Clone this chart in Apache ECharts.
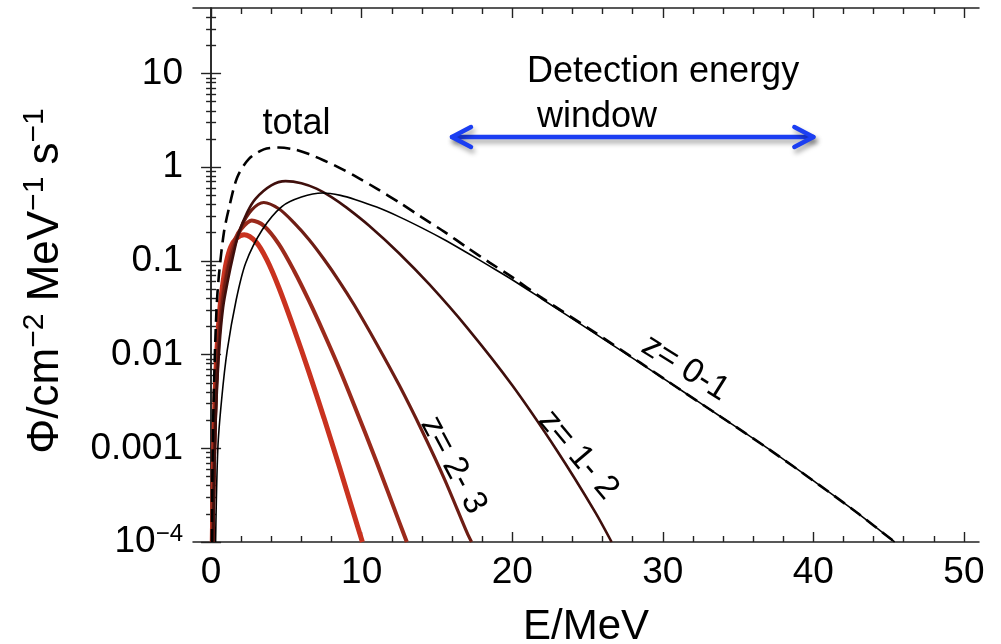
<!DOCTYPE html>
<html>
<head>
<meta charset="utf-8">
<script src="https://cdn.jsdelivr.net/npm/echarts@6/dist/echarts.min.js"></script>
<style>
  html, body { margin: 0; padding: 0; background: #fff; }
  #chart { width: 1001px; height: 644px; }
</style>
</head>
<body>
<div id="chart"></div>
<script>
// Neutrino flux spectra Φ(E) in cm^-2 MeV^-1 s^-1, one pair of arrays per redshift shell.
const eZ01 = [0.3, 0.45, 0.7, 1.07, 1.67, 2.3, 3.4, 4.7, 6.0, 7.4, 8.6, 9.6, 11, 12.5, 14, 15.5, 17, 18.5, 20, 22, 25.2, 28.5, 31, 33.8, 37, 40.4, 43, 45.4];
const fZ01 = [1e-4, 0.001, 0.0033, 0.011, 0.0385, 0.095, 0.215, 0.38, 0.48, 0.53, 0.50, 0.45, 0.375, 0.295, 0.225, 0.168, 0.122, 0.088, 0.063, 0.039, 0.018, 0.0081, 0.0044, 0.0022, 0.00099, 0.000405, 0.0002, 0.0001];

const eZ12 = [0.13, 0.22, 0.35, 0.55, 0.8, 1.1, 1.5, 1.85, 2.4, 2.95, 4.0, 4.95, 6, 7, 8, 9, 10.5, 12.5, 14.5, 17, 20, 23, 25.5, 26.6];
const fZ12 = [1e-4, 0.0006, 0.003, 0.012, 0.032, 0.06, 0.12, 0.2, 0.33, 0.46, 0.64, 0.71, 0.675, 0.59, 0.48, 0.37, 0.237, 0.12, 0.056, 0.0194, 0.0047, 0.00093, 0.00021, 0.0001];

const eZ23 = [0.12, 0.2, 0.32, 0.5, 0.7, 1.0, 1.4, 2.0, 2.7, 3.5, 4.5, 5.5, 6.5, 7.5, 8.5, 9.5, 11, 12.5, 14, 15.5, 17, 17.3];
const fZ23 = [1e-4, 0.0006, 0.003, 0.012, 0.03, 0.065, 0.12, 0.23, 0.35, 0.42, 0.36, 0.256, 0.169, 0.104, 0.061, 0.034, 0.013, 0.0047, 0.00155, 0.00047, 0.000126, 0.0001];

const eZ34 = [0.1, 0.17, 0.28, 0.45, 0.65, 0.9, 1.2, 1.6, 2.0, 2.7, 3.5, 4.5, 5.5, 6.5, 7.5, 8.5, 9.5, 11, 12.5, 13.0];
const fZ34 = [1e-4, 0.0006, 0.003, 0.012, 0.03, 0.058, 0.1, 0.17, 0.22, 0.27, 0.237, 0.151, 0.079, 0.0376, 0.0168, 0.0072, 0.0029, 0.00071, 0.000163, 0.0001];

const eZ45 = [0.08, 0.15, 0.25, 0.4, 0.6, 0.8, 1.0, 1.3, 1.7, 2.2, 3.0, 3.7, 4.5, 5.5, 6.5, 7.5, 8.5, 9.5, 10.05];
const fZ45 = [1e-4, 0.0006, 0.003, 0.012, 0.033, 0.06, 0.095, 0.14, 0.175, 0.19, 0.158, 0.103, 0.052, 0.019, 0.0065, 0.0021, 0.00065, 0.000194, 0.0001];

const eTotal = [0.05, 0.1, 0.2, 0.36, 0.52, 0.85, 1.18, 1.74, 2.5, 3.5, 4.5, 5.5, 6.5, 7.5, 8.5, 9.6, 11, 12.5, 14, 15.5, 17, 18.5, 20, 22, 25.2, 28.5, 31, 33.8, 37, 40.4, 43, 45.4];
const fTotal = [1e-4, 0.0008, 0.005, 0.03, 0.07, 0.2, 0.36, 0.78, 1.22, 1.55, 1.62, 1.55, 1.38, 1.18, 0.99, 0.8, 0.59, 0.42, 0.292, 0.204, 0.139, 0.096, 0.067, 0.04, 0.0185, 0.0082, 0.0044, 0.0022, 0.00099, 0.000405, 0.0002, 0.0001];

// Detection energy window (MeV) and the flux level its arrow is drawn at
const windowRange = [16, 40];
const windowLevel = [2.1];

// Tick values and labels
const xMajorTicks = [0, 10, 20, 30, 40, 50];
const xMinorTicks = [2, 4, 6, 8, 12, 14, 16, 18, 22, 24, 26, 28, 32, 34, 36, 38, 42, 44, 46, 48];
const yMajorTicks = [1e-4, 1e-3, 1e-2, 1e-1, 1, 10];
const yTickLabels = ['{b|10}{s|−4}', '0.001', '0.01', '0.1', '1', '10'];
const yMinorTicks = [];
[1e-4, 1e-3, 1e-2, 1e-1, 1].forEach(function (d) {
  for (let m = 2; m <= 9; m++) yMinorTicks.push(+(m * d).toPrecision(3));
});
[20, 30, 40].forEach(function (v) { yMinorTicks.push(v); });

// Text notes
const noteTexts = ['total', 'Detection energy', 'window', 'z= 0-1', 'z= 1- 2', 'z= 2- 3'];

const FONT = '"Liberation Sans", Arial, Helvetica, sans-serif';
// where each note sits (E, Φ), its clockwise tilt in degrees, size and alignment
const noteLayout = [
  { at: [5.68, 2.85], rot: 0, size: 36, align: 'center' },
  { at: [20.98, 10.3], rot: 0, size: 36, align: 'left' },
  { at: [21.65, 3.39], rot: 0, size: 36, align: 'left' },
  { at: [31.49, 0.0072], rot: 32, size: 34, align: 'center' },
  { at: [24.39, 0.00085], rot: 50, size: 34, align: 'center' },
  { at: [16.09, 0.00066], rot: 62, size: 34, align: 'center' }
];

function pairs(xs, ys) { return xs.map(function (x, i) { return [x, ys[i]]; }); }

const X_MIN = -1.2, X_MAX = 51, Y_MIN = 1e-4, Y_MAX = 50;
const frame = { show: true, lineStyle: { color: '#222', width: 1.5 } };
const tickStyle = { color: '#222', width: 1.4 };

function xAxisDef(pos, ticks, len, withLine, withLabels) {
  return {
    type: 'value', min: X_MIN, max: X_MAX, position: pos,
    axisLine: withLine ? frame : { show: false },
    axisTick: { show: true, inside: true, length: len, customValues: ticks, lineStyle: tickStyle },
    axisLabel: withLabels ? { show: true, customValues: xMajorTicks, margin: 12, fontSize: 37, fontFamily: FONT, color: '#000' } : { show: false },
    splitLine: { show: false }
  };
}
function yAxisDef(pos, ticks, len, withLine, withLabels) {
  return {
    type: 'log', logBase: 10, min: Y_MIN, max: Y_MAX, position: pos,
    axisLine: withLine ? frame : { show: false },
    axisTick: { show: true, inside: true, length: len, customValues: ticks, lineStyle: tickStyle },
    axisLabel: withLabels ? {
      show: true, customValues: yMajorTicks, margin: 10, fontSize: 37, fontFamily: FONT, color: '#000',
      formatter: function (v) { return yTickLabels[Math.round(Math.log10(v)) + 4]; },
      rich: {
        b: { fontSize: 37, fontFamily: FONT, color: '#000', lineHeight: 40 },
        s: { fontSize: 24, fontFamily: FONT, color: '#000', lineHeight: 22, verticalAlign: 'top' }
      }
    } : { show: false },
    splitLine: { show: false }
  };
}

const xAxes = [
  xAxisDef('bottom', xMajorTicks, 10, true, true),
  xAxisDef('bottom', xMinorTicks, 6, false, false),
  xAxisDef('top', xMajorTicks, 10, true, false),
  xAxisDef('top', xMinorTicks, 6, false, false)
];
Object.assign(xAxes[0], {
  name: 'E/MeV', nameLocation: 'middle', nameGap: 64,
  nameTextStyle: { fontSize: 42, fontFamily: FONT, color: '#000' }
});

const yAxes = [
  yAxisDef('left', yMajorTicks, 10, true, true),
  yAxisDef('left', yMinorTicks, 5, false, false),
  yAxisDef('right', yMajorTicks, 10, true, false),
  yAxisDef('right', yMinorTicks, 5, false, false)
];
Object.assign(yAxes[0], {
  name: '{t|Φ/cm}{s|−2}{t| MeV}{s|−1}{t| s}{s|−1}',
  nameLocation: 'middle', nameRotate: 90, nameGap: 121,
  nameTextStyle: {
    padding: [0, 12, 0, 0],
    rich: {
      t: { fontSize: 44, fontFamily: FONT, color: '#000', lineHeight: 52 },
      s: { fontSize: 30, fontFamily: FONT, color: '#000', lineHeight: 26, verticalAlign: 'top' }
    }
  }
});

function curve(name, xs, ys, color, width, dashed) {
  return {
    name: name, type: 'line', xAxisIndex: 0, yAxisIndex: 0,
    data: pairs(xs, ys), showSymbol: false, smooth: 0.3, clip: true,
    lineStyle: { color: color, width: width, type: dashed ? [13, 7] : 'solid', cap: 'butt' },
    emphasis: { disabled: true }, silent: true, z: 3
  };
}

const option = {
  backgroundColor: '#fff',
  animation: false,
  grid: { left: 193, right: 22, top: 8, bottom: 102, containLabel: false, outerBoundsMode: 'none' },
  xAxis: xAxes,
  yAxis: yAxes,
  series: [
    curve('z=4-5', eZ45, fZ45, '#c9321f', 5),
    curve('z=3-4', eZ34, fZ34, '#9b2a1b', 4),
    curve('z=2-3', eZ23, fZ23, '#6e1d14', 3.2),
    curve('z=1-2', eZ12, fZ12, '#3f0f0c', 2.6),
    curve('z=0-1', eZ01, fZ01, '#000000', 1.6),
    curve('total', eTotal, fTotal, '#000000', 2.6, true),
    {
      // double-headed arrow spanning the detection window
      type: 'custom', xAxisIndex: 0, yAxisIndex: 0, silent: true, z: 5,
      data: [[windowRange[0], windowLevel[0], windowRange[1], windowLevel[0]]],
      encode: { x: [0, 2], y: [1, 3] },
      renderItem: function (params, api) {
        const a = api.coord([api.value(0), api.value(1)]);
        const b = api.coord([api.value(2), api.value(3)]);
        const st = {
          stroke: '#1b3ef2', lineWidth: 4.5, fill: 'none', lineCap: 'round', lineJoin: 'round',
          shadowBlur: 5, shadowOffsetX: 2, shadowOffsetY: 4, shadowColor: 'rgba(0,0,0,0.35)'
        };
        const L = 19, H = 10;
        return {
          type: 'group',
          children: [
            { type: 'line', shape: { x1: a[0], y1: a[1], x2: b[0], y2: b[1] }, style: st },
            { type: 'polyline', shape: { points: [[a[0] + L, a[1] - H], [a[0], a[1]], [a[0] + L, a[1] + H]] }, style: st },
            { type: 'polyline', shape: { points: [[b[0] - L, b[1] - H], [b[0], b[1]], [b[0] - L, b[1] + H]] }, style: st }
          ]
        };
      }
    },
    {
      // text notes placed in data coordinates
      type: 'custom', xAxisIndex: 0, yAxisIndex: 0, silent: true, z: 6, clip: false,
      data: noteLayout.map(function (n) { return [n.at[0], n.at[1]]; }),
      renderItem: function (params, api) {
        const n = noteLayout[params.dataIndex];
        const p = api.coord([api.value(0), api.value(1)]);
        return {
          type: 'text', x: p[0], y: p[1], rotation: -n.rot * Math.PI / 180,
          style: {
            text: noteTexts[params.dataIndex], fontSize: n.size, fontFamily: FONT,
            fill: '#000', align: n.align, verticalAlign: 'middle'
          }
        };
      }
    }
  ]
};

const chart = echarts.init(document.getElementById('chart'), null, { renderer: 'canvas' });
chart.setOption(option);
</script>
</body>
</html>
